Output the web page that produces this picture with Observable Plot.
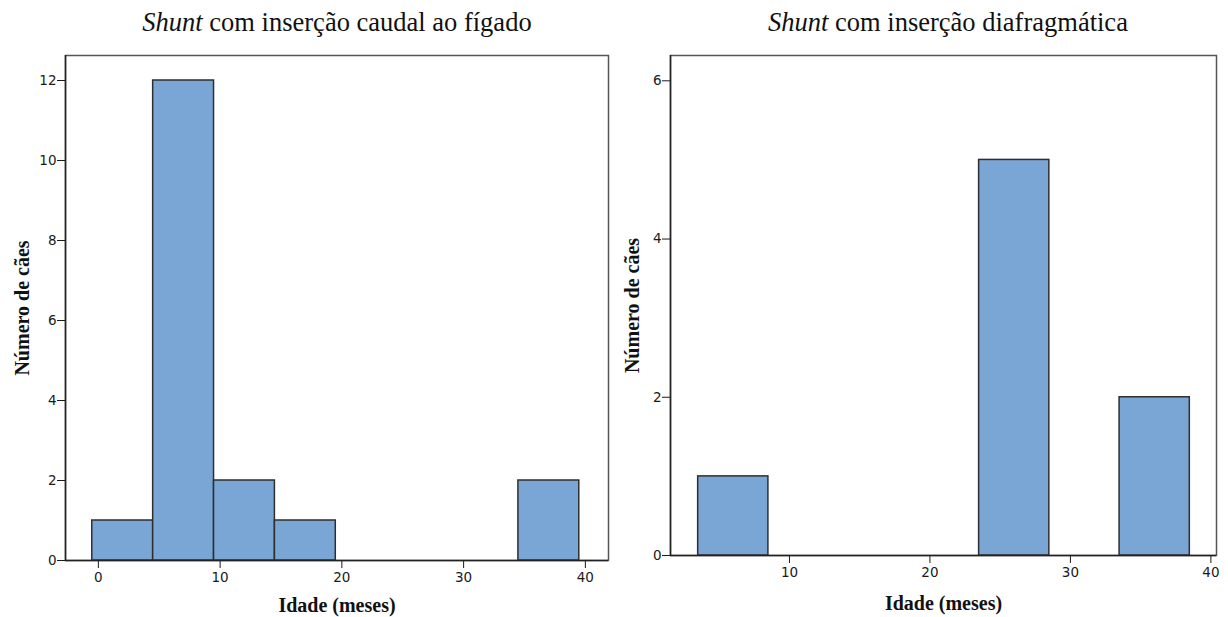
<!DOCTYPE html>
<html><head><meta charset="utf-8">
<script src="https://cdn.jsdelivr.net/npm/d3@7"></script>
<script src="https://cdn.jsdelivr.net/npm/@observablehq/plot@0.6"></script>
<style>
body{margin:0;background:#fff;width:1228px;height:617px;overflow:hidden;position:relative;}
.panel{position:absolute;top:0;width:614px;height:617px;}
.title{position:absolute;top:0;width:600px;height:44px;font-family:"Liberation Serif","Times New Roman",serif;font-size:26.5px;color:#111;white-space:nowrap;line-height:44px;text-align:center;}
.svgwrap{position:absolute;top:40px;left:0;}
</style></head><body>
<div id="left" class="panel" style="left:0"></div>
<div id="right" class="panel" style="left:614px"></div>
<script>
// ---- data ----
const binWidth = 5;
const leftBinStarts = [-0.5, 4.5, 9.5, 14.5, 34.5];
const leftCounts = [1, 12, 2, 1, 2];
const rightBinStarts = [3.5, 23.5, 33.5];
const rightCounts = [1, 5, 2];
const titleItalic = "Shunt";
const leftTitleRest = " com inserção caudal ao fígado";
const rightTitleRest = " com inserção diafragmática";
const xLabel = "Idade (meses)";
const yLabel = "Número de cães";
const leftXTicks = [0, 10, 20, 30, 40];
const leftYTicks = [0, 2, 4, 6, 8, 10, 12];
const rightXTicks = [10, 20, 30, 40];
const rightYTicks = [0, 2, 4, 6];

function panel(el, o) {
  const rows = o.starts.map((s, i) => ({x1: s, x2: s + binWidth, count: o.counts[i]}));
  const t = document.createElement("div");
  t.className = "title";
  t.style.left = o.titleLeft + "px";
  const it = document.createElement("i"); it.textContent = titleItalic;
  t.appendChild(it); t.appendChild(document.createTextNode(o.titleRest));
  el.appendChild(t);
  const tickFont = "'DejaVu Sans', 'Liberation Sans', sans-serif";
  const serif = "'Liberation Serif', 'Times New Roman', serif";
  const chart = Plot.plot({
    width: 614, height: 577,
    marginTop: 15, marginLeft: o.marginLeft, marginRight: o.marginRight, marginBottom: o.marginBottom,
    style: {fontFamily: tickFont, color: "#1a1a1a", background: "#fff"},
    x: {domain: o.xDomain},
    y: {domain: o.yDomain},
    marks: [
      Plot.rectY(rows, {x1: "x1", x2: "x2", y: "count", fill: "#7aa6d6", stroke: "#2e2e2e", strokeWidth: 1.5}),
      Plot.frame({stroke: "#555", strokeWidth: 1.5}),
      Plot.axisX({ticks: o.xTicks, tickSize: 8, tickFormat: () => "", label: null}),
      Plot.axisY({ticks: o.yTicks, tickSize: 8, tickFormat: () => "", label: null}),
      Plot.text(o.xTicks, {x: d => d, text: d => String(d), frameAnchor: "bottom", dy: 17,
        lineAnchor: "middle", textAnchor: "middle", fontFamily: tickFont, fontSize: 13.5, fill: "#1a1a1a"}),
      Plot.text(o.yTicks, {y: d => d, text: d => String(d), frameAnchor: "left", dx: -9,
        lineAnchor: "middle", textAnchor: "end", fontFamily: tickFont, fontSize: 13.5, fill: "#1a1a1a"}),
      Plot.ruleY([o.yDomain[0]], {stroke: "#222", strokeWidth: 1.5}),
      Plot.ruleX([o.xDomain[0]], {stroke: "#222", strokeWidth: 1.5}),
      Plot.text([yLabel], {text: d => d, frameAnchor: "left", dx: o.ytDx, rotate: -90,
        textAnchor: "middle", lineAnchor: "middle",
        fontFamily: serif, fontWeight: "bold", fontSize: 20, fill: "#111"}),
      Plot.text([xLabel], {text: d => d, frameAnchor: "bottom", dy: o.xtDy,
        textAnchor: "middle", lineAnchor: "middle",
        fontFamily: serif, fontWeight: "bold", fontSize: 20, fill: "#111"})
    ]
  });
  const w = document.createElement("div");
  w.className = "svgwrap";
  w.appendChild(chart);
  el.appendChild(w);
}

panel(document.getElementById("left"), {
  starts: leftBinStarts, counts: leftCounts, titleRest: leftTitleRest, titleLeft: 37,
  xDomain: [-2.7, 41.9], yDomain: [0, 12.625], xTicks: leftXTicks, yTicks: leftYTicks,
  marginLeft: 65, marginRight: 6, marginBottom: 57, ytDx: -43, xtDy: 45
});
panel(document.getElementById("right"), {
  starts: rightBinStarts, counts: rightCounts, titleRest: rightTitleRest, titleLeft: 34,
  xDomain: [1.53, 40.4], yDomain: [0, 6.32], xTicks: rightXTicks, yTicks: rightYTicks,
  marginLeft: 56, marginRight: 12, marginBottom: 62, ytDx: -38, xtDy: 48
});
</script>
</body></html>
